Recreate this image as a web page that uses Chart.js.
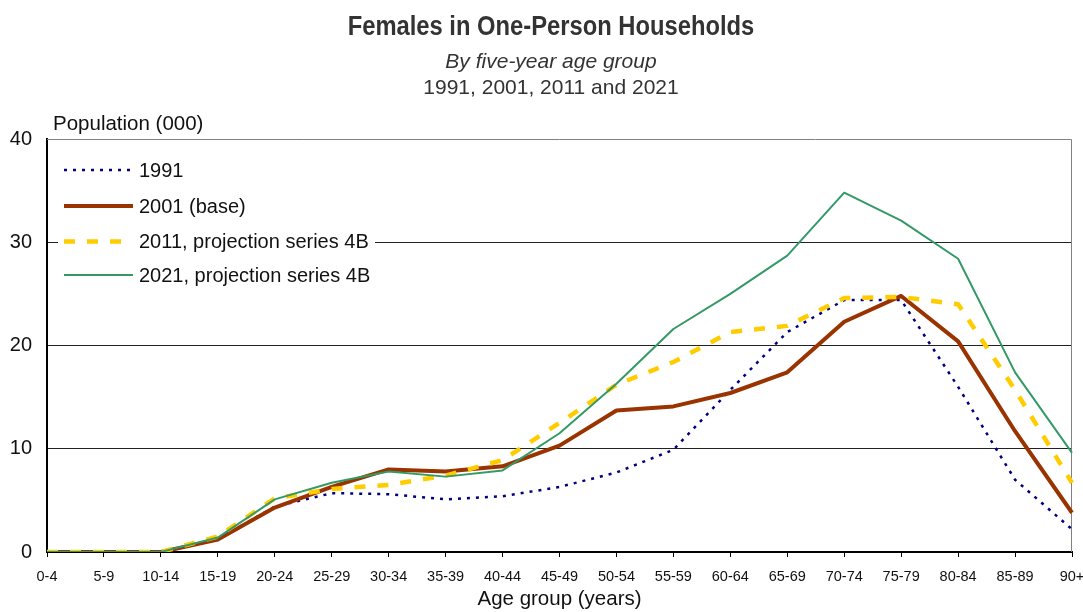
<!DOCTYPE html>
<html>
<head>
<meta charset="utf-8">
<title>Females in One-Person Households</title>
<script src="https://cdn.jsdelivr.net/npm/chart.js@4.4.1/dist/chart.umd.min.js"></script>
<style>
  html, body { margin: 0; padding: 0; background: #ffffff; }
  #wrap { width: 1083px; height: 612px; }
</style>
</head>
<body>
<div id="wrap"><canvas id="chart" width="1083" height="612"></canvas></div>
<script>
// Age groups along the horizontal axis
const ageGroups = ['0-4', '5-9', '10-14', '15-19', '20-24', '25-29', '30-34', '35-39', '40-44',
  '45-49', '50-54', '55-59', '60-64', '65-69', '70-74', '75-79', '80-84', '85-89', '90+'];

// Females living alone, thousands
const pop1991 = [0, 0, 0, 1.2, 4.4, 5.7, 5.6, 5.1, 5.4, 6.3, 7.7, 9.9, 15.7, 21.3, 24.4, 24.4, 16.0, 7.0, 2.2];
const pop2001 = [0, 0, 0, 1.2, 4.3, 6.3, 8.0, 7.8, 8.3, 10.3, 13.7, 14.1, 15.4, 17.4, 22.3, 24.8, 20.4, 11.7, 3.8];
const pop2011 = [0, 0, 0, 1.5, 5.2, 6.1, 6.5, 7.4, 8.9, 12.5, 16.2, 18.4, 21.3, 21.9, 24.6, 24.7, 24.0, 15.7, 6.7];
const pop2021 = [0, 0, 0, 1.4, 5.1, 6.7, 7.8, 7.3, 7.9, 11.5, 16.3, 21.6, 25.0, 28.7, 34.8, 32.1, 28.4, 17.4, 9.6];

const seriesNames = ['1991', '2001 (base)', '2011, projection series 4B', '2021, projection series 4B'];
const yTicks = [0, 10, 20, 30, 40];

const FONT = "'Liberation Sans', Arial, Helvetica, sans-serif";

// Age-group labels are set in a narrow face when one is available
function narrowFaceAvailable() {
  const c = document.createElement('canvas').getContext('2d');
  c.font = "20px monospace";
  const base = c.measureText('0123456789-+').width;
  c.font = "20px 'Liberation Sans Narrow', monospace";
  return Math.abs(c.measureText('0123456789-+').width - base) > 0.5;
}
const hasNarrow = narrowFaceAvailable();
const tickFont = hasNarrow
  ? { family: "'Liberation Sans Narrow', " + FONT, size: 17.5 }
  : { family: FONT, size: 14.5 };

// Headings above the plot
const headingPlugin = {
  id: 'headings',
  afterDraw(chart) {
    const ctx = chart.ctx;
    ctx.save();
    ctx.textAlign = 'center';
    ctx.textBaseline = 'alphabetic';
    ctx.fillStyle = '#333333';
    // tall, slightly condensed main heading
    ctx.save();
    ctx.translate(551, 35);
    ctx.scale(0.88, 1);
    ctx.font = 'bold 27px ' + FONT;
    ctx.fillText('Females in One-Person Households', 0, 0);
    ctx.restore();
    ctx.font = 'italic 21px ' + FONT;
    ctx.fillText('By five-year age group', 551, 68);
    ctx.font = '21px ' + FONT;
    ctx.fillText('1991, 2001, 2011 and 2021', 551, 94);
    // vertical axis caption, written horizontally above the axis
    ctx.textAlign = 'left';
    ctx.fillStyle = '#111111';
    ctx.font = '20.5px ' + FONT;
    ctx.fillText('Population (000)', 53, 130);
    ctx.restore();
  }
};

// Thin grey frame on the top and right of the plot
const framePlugin = {
  id: 'frame',
  beforeDatasetsDraw(chart) {
    const {ctx, chartArea: a} = chart;
    ctx.save();
    ctx.strokeStyle = '#808080';
    ctx.lineWidth = 1;
    ctx.beginPath();
    ctx.moveTo(a.left, a.top + 0.5);
    ctx.lineTo(a.right - 0.5, a.top + 0.5);
    ctx.lineTo(a.right - 0.5, a.bottom);
    ctx.stroke();
    ctx.restore();
  }
};

// Legend placed inside the plot, top left, on a white panel
const insetLegend = {
  id: 'insetLegend',
  afterDatasetsDraw(chart) {
    const ctx = chart.ctx;
    ctx.save();
    ctx.fillStyle = '#ffffff';
    ctx.fillRect(58, 150, 317, 142);
    const rows = [170, 206, 241.5, 275];
    ctx.font = '20px ' + FONT;
    ctx.textAlign = 'left';
    ctx.textBaseline = 'middle';
    chart.data.datasets.forEach((ds, i) => {
      const y = rows[i];
      ctx.save();
      ctx.strokeStyle = ds.borderColor;
      ctx.lineWidth = ds.borderWidth;
      ctx.lineCap = 'butt';
      ctx.setLineDash(ds.borderDash || []);
      ctx.beginPath();
      ctx.moveTo(64, y);
      ctx.lineTo(133, y);
      ctx.stroke();
      ctx.restore();
      ctx.fillStyle = '#111111';
      ctx.fillText(ds.label, 139, y + 1);
    });
    ctx.restore();
  }
};

new Chart(document.getElementById('chart'), {
  type: 'line',
  data: {
    labels: ageGroups,
    datasets: [
      { label: seriesNames[0], data: pop1991, borderColor: '#000080', borderWidth: 2.5,
        borderDash: [3, 6], order: 3 },
      { label: seriesNames[1], data: pop2001, borderColor: '#993300', borderWidth: 4, order: 2 },
      { label: seriesNames[2], data: pop2011, borderColor: '#FFCC00', borderWidth: 4.5,
        borderDash: [11, 12], order: 1 },
      { label: seriesNames[3], data: pop2021, borderColor: '#339966', borderWidth: 2, order: 0 }
    ]
  },
  options: {
    responsive: false,
    animation: false,
    devicePixelRatio: 1,
    layout: { padding: { top: 139, right: 11, bottom: 0, left: 0 } },
    elements: {
      point: { radius: 0, hoverRadius: 0 },
      line: { tension: 0, fill: false, borderCapStyle: 'butt', borderJoinStyle: 'round' }
    },
    plugins: {
      legend: { display: false },
      tooltip: { enabled: false },
      title: { display: false }
    },
    scales: {
      x: {
        type: 'category',
        offset: false,
        grid: { drawOnChartArea: false, drawTicks: true, tickLength: 5, color: '#000000', lineWidth: 1 },
        border: { display: true, color: '#000000', width: 2 },
        ticks: {
          autoSkip: false, maxRotation: 0, minRotation: 0, padding: hasNarrow ? 9 : 11,
          color: '#111111', font: tickFont
        },
        title: {
          display: true, text: 'Age group (years)', color: '#111111',
          font: { family: FONT, size: 20.5 }, padding: { top: 0, bottom: 0 }
        },
        afterFit(scale) { scale.height = 60; scale.paddingLeft = 0; scale.paddingRight = 0; }
      },
      y: {
        min: 0, max: 40,
        afterBuildTicks(scale) { scale.ticks = yTicks.map(v => ({ value: v })); },
        grid: {
          drawTicks: false,
          color: (c) => (c.tick && c.tick.value === 40) ? 'rgba(0,0,0,0)' : '#222222',
          lineWidth: 1
        },
        border: { display: true, color: '#000000', width: 2 },
        ticks: { padding: 15, color: '#111111', font: { family: FONT, size: 20 } },
        afterFit(scale) { scale.width = 47; scale.paddingTop = 0; scale.paddingBottom = 0; }
      }
    }
  },
  plugins: [framePlugin, insetLegend, headingPlugin]
});
</script>
</body>
</html>
